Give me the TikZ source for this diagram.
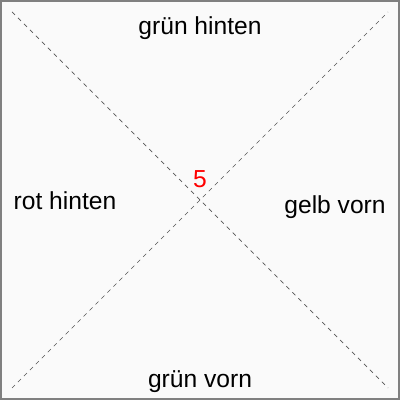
\documentclass[tikz,border=0pt]{standalone}
\usepackage{fontspec}
\setmainfont{Liberation Sans}
\usetikzlibrary{positioning}
\definecolor{frameink}{HTML}{808080}
\definecolor{paper}{HTML}{FAFAFA}
\definecolor{diagink}{HTML}{555555}

\begin{document}
\begin{tikzpicture}[
    lab/.style={font=\fontsize{17.5}{20}\selectfont,color=black},
    diag/.style={diagink,line width=0.5pt,dash pattern=on 3pt off 3pt}]
  \useasboundingbox (0,0) rectangle (10,10);
  \draw[frameink,fill=paper,line width=0.06cm] (0.03,0.03) rectangle (9.97,9.97);
  % corners of the diagonals
  \coordinate (sw) at (0.3,0.3);
  \coordinate (ne) at (9.7,9.7);
  \coordinate (nw) at (0.3,9.7);
  \coordinate (se) at (9.7,0.3);
  \draw[diag] (nw) -- (se);
  \draw[diag] (sw) -- (ne);
  \node[lab] (gh) at (5,9.3) {grün hinten};
  \node[lab] (rh) at (1.625,4.975) {rot hinten};
  \node[lab] (gv) at (8.375,4.825) {gelb vorn};
  \node[lab] (gr) at (5,0.46) {grün vorn};
  \node[lab,color=red] (num) at (5,5.525) {5};
\end{tikzpicture}
\end{document}
